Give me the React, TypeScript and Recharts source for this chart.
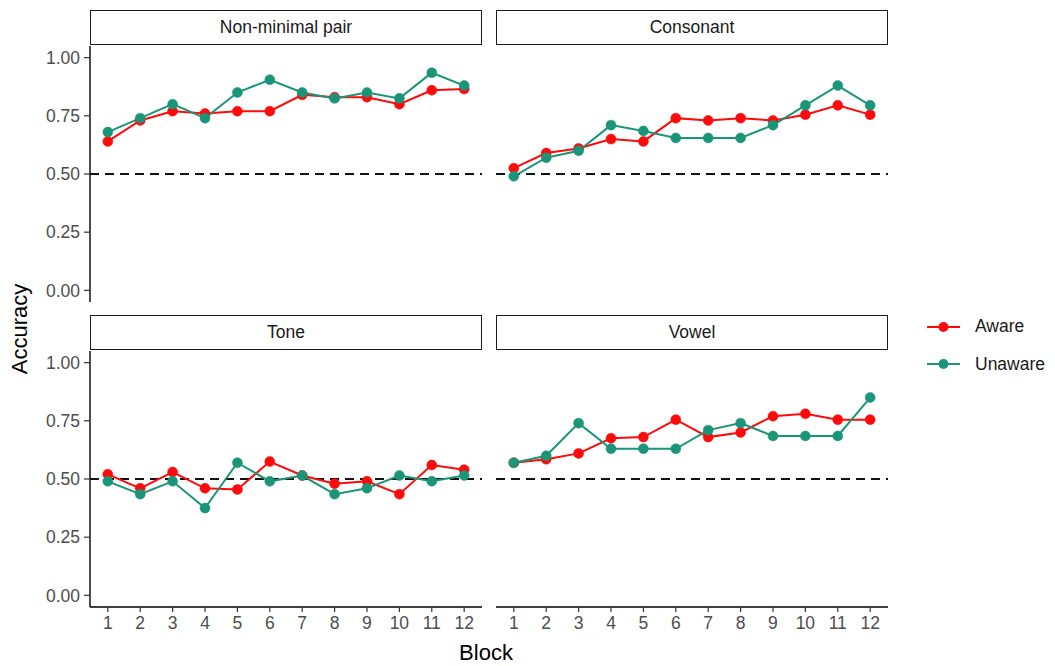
import { CartesianGrid, Line, LineChart, ReferenceLine, XAxis, YAxis } from "recharts";

const blocks = [1, 2, 3, 4, 5, 6, 7, 8, 9, 10, 11, 12];
const yTicks = [0, 0.25, 0.5, 0.75, 1];

const nonMinimalAware = [0.64, 0.73, 0.77, 0.76, 0.77, 0.77, 0.84, 0.83, 0.83, 0.8, 0.86, 0.865];
const nonMinimalUnaware = [0.68, 0.74, 0.8, 0.74, 0.85, 0.905, 0.85, 0.825, 0.85, 0.825, 0.935, 0.88];
const consonantAware = [0.525, 0.59, 0.61, 0.65, 0.64, 0.74, 0.73, 0.74, 0.73, 0.755, 0.795, 0.755];
const consonantUnaware = [0.49, 0.57, 0.6, 0.71, 0.685, 0.655, 0.655, 0.655, 0.71, 0.795, 0.88, 0.795];
const toneAware = [0.52, 0.46, 0.53, 0.46, 0.455, 0.575, 0.515, 0.48, 0.49, 0.435, 0.56, 0.54];
const toneUnaware = [0.49, 0.435, 0.49, 0.375, 0.57, 0.49, 0.515, 0.435, 0.46, 0.515, 0.49, 0.515];
const vowelAware = [0.57, 0.585, 0.61, 0.675, 0.68, 0.755, 0.68, 0.7, 0.77, 0.78, 0.755, 0.755];
const vowelUnaware = [0.57, 0.6, 0.74, 0.63, 0.63, 0.63, 0.71, 0.74, 0.685, 0.685, 0.685, 0.85];

const series = [
  { key: "aware", name: "Aware", color: "#ff0a0a" },
  { key: "unaware", name: "Unaware", color: "#1b9577" },
];

const FONT = '"Liberation Sans", Arial, Helvetica, sans-serif';
const SMALL = 17.5;
const TITLE = 22;

type Facet = {
  title: string;
  aware: number[];
  unaware: number[];
  left: boolean;
  bottom: boolean;
};

const facets: Facet[] = [
  { title: "Non-minimal pair", aware: nonMinimalAware, unaware: nonMinimalUnaware, left: true, bottom: false },
  { title: "Consonant", aware: consonantAware, unaware: consonantUnaware, left: false, bottom: false },
  { title: "Tone", aware: toneAware, unaware: toneUnaware, left: true, bottom: true },
  { title: "Vowel", aware: vowelAware, unaware: vowelUnaware, left: false, bottom: true },
];

// panel geometry
const PANEL_X = [90, 496];
const PANEL_W = 392;
const PLOT_TOP = [46, 351];
const PLOT_H = 256;
const STRIP_H = 35;
const Y_AXIS_W = 60;
const X_AXIS_H = 36;

function Panel({ facet, index }: { facet: Facet; index: number }) {
  const col = index % 2;
  const row = Math.floor(index / 2);
  const data = blocks.map((b, i) => ({ block: b, aware: facet.aware[i], unaware: facet.unaware[i] }));
  const yw = facet.left ? Y_AXIS_W : 0;
  const xh = facet.bottom ? X_AXIS_H : 0;
  const tickStyle = { fill: "#4d4d4d", fontSize: SMALL, fontFamily: FONT };

  return (
    <>
      <div
        style={{
          position: "absolute",
          left: PANEL_X[col],
          top: PLOT_TOP[row] - STRIP_H - 1,
          width: PANEL_W - 2,
          height: STRIP_H - 2,
          border: "1.3px solid #1a1a1a",
          background: "#fff",
          display: "flex",
          alignItems: "center",
          justifyContent: "center",
          fontSize: SMALL,
          color: "#1a1a1a",
          fontFamily: FONT,
        }}
      >
        {facet.title}
      </div>
      <div style={{ position: "absolute", left: PANEL_X[col] - yw, top: PLOT_TOP[row] }}>
        <LineChart
          width={PANEL_W + yw}
          height={PLOT_H + xh}
          data={data}
          margin={{ top: 0, right: 0, bottom: 0, left: 0 }}
        >
          <CartesianGrid stroke="none" />
          <XAxis
            dataKey="block"
            type="number"
            domain={[0.45, 12.55]}
            ticks={blocks}
            hide={!facet.bottom}
            height={X_AXIS_H}
            tick={tickStyle}
            tickSize={5}
            tickMargin={5}
            axisLine={{ stroke: "#000", strokeWidth: 1.4 }}
            tickLine={{ stroke: "#333", strokeWidth: 1.2 }}
            interval={0}
          />
          <YAxis
            type="number"
            domain={[-0.05, 1.05]}
            ticks={yTicks}
            hide={!facet.left}
            width={Y_AXIS_W}
            tick={tickStyle}
            tickSize={6}
            tickMargin={4}
            tickFormatter={(v: number) => v.toFixed(2)}
            axisLine={{ stroke: "#000", strokeWidth: 1.4 }}
            tickLine={{ stroke: "#333", strokeWidth: 1.2 }}
            allowDataOverflow
          />
          <ReferenceLine y={0.5} stroke="#111" strokeWidth={1.8} strokeDasharray="9 6" />
          {series.map((s) => (
            <Line
              key={s.key}
              dataKey={s.key}
              name={s.name}
              type="linear"
              stroke={s.color}
              strokeWidth={2}
              dot={{ r: 5, fill: s.color, stroke: s.color, strokeWidth: 0.5 }}
              activeDot={false}
              isAnimationActive={false}
            />
          ))}
        </LineChart>
      </div>
    </>
  );
}

function Legend() {
  return (
    <div style={{ position: "absolute", left: 926, top: 308, fontFamily: FONT }}>
      {series.map((s) => (
        <div key={s.key} style={{ display: "flex", alignItems: "center", height: 37.5 }}>
          <svg width={35} height={20}>
            <line x1={1} y1={10} x2={34} y2={10} stroke={s.color} strokeWidth={2} />
            <circle cx={17.5} cy={10} r={5} fill={s.color} />
          </svg>
          <span style={{ marginLeft: 14, fontSize: SMALL, color: "#1a1a1a" }}>{s.name}</span>
        </div>
      ))}
    </div>
  );
}

export default function App() {
  return (
    <div
      style={{
        position: "absolute",
        left: 0,
        top: 0,
        width: 1055,
        height: 666,
        background: "#fff",
        fontFamily: FONT,
      }}
    >
      {facets.map((f, i) => (
        <Panel key={f.title} facet={f} index={i} />
      ))}
      <Legend />
      <div
        style={{
          position: "absolute",
          left: 20,
          top: 329,
          transform: "translate(-50%, -50%) rotate(-90deg)",
          fontSize: TITLE,
          color: "#000",
          whiteSpace: "nowrap",
        }}
      >
        Accuracy
      </div>
      <div
        style={{
          position: "absolute",
          left: 486,
          top: 653,
          transform: "translate(-50%, -50%)",
          fontSize: TITLE,
          color: "#000",
        }}
      >
        Block
      </div>
    </div>
  );
}
